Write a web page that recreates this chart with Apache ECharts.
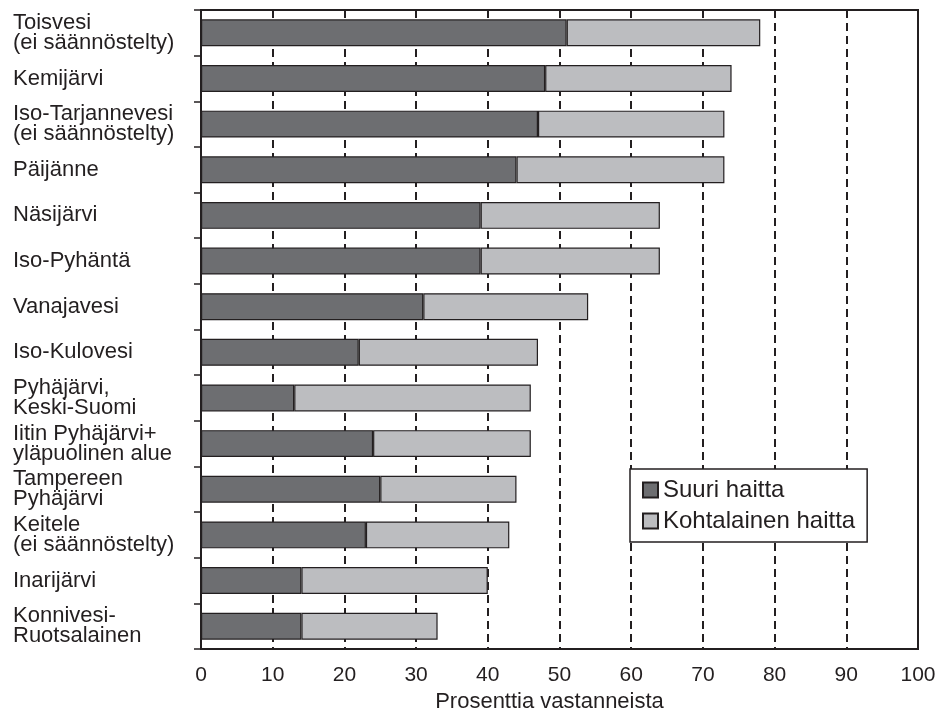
<!DOCTYPE html>
<html>
<head>
<meta charset="utf-8">
<script src="https://cdn.jsdelivr.net/npm/echarts@6/dist/echarts.min.js"></script>
<style>html,body{margin:0;padding:0;background:#fff}#c{width:946px;height:713px}</style>
</head>
<body>
<div id="c"></div>
<script>
var categories = [
  "Toisvesi\n(ei säännöstelty)",
  "Kemijärvi",
  "Iso-Tarjannevesi\n(ei säännöstelty)",
  "Päijänne",
  "Näsijärvi",
  "Iso-Pyhäntä",
  "Vanajavesi",
  "Iso-Kulovesi",
  "Pyhäjärvi,\nKeski-Suomi",
  "Iitin Pyhäjärvi+\nyläpuolinen alue",
  "Tampereen\nPyhäjärvi",
  "Keitele\n(ei säännöstelty)",
  "Inarijärvi",
  "Konnivesi-\nRuotsalainen"
];
var suuriHaitta = [51, 48, 47, 44, 39, 39, 31, 22, 13, 24, 25, 23, 14, 14];
var kohtalainenHaitta = [27, 26, 26, 29, 25, 25, 23, 25, 33, 22, 19, 20, 26, 19];
var seriesNames = ["Suuri haitta", "Kohtalainen haitta"];
var xAxisTitle = "Prosenttia vastanneista";

var FONT = "Liberation Sans, Arial, sans-serif";
var INK = "#231f20";
var chart = echarts.init(document.getElementById('c'), null, {renderer: 'canvas'});
chart.setOption({
  animation: false,
  backgroundColor: '#ffffff',
  textStyle: {fontFamily: FONT, color: INK},
  grid: {left: 201, right: 28, top: 10, bottom: 64, show: true, borderColor: INK, borderWidth: 2,
         backgroundColor: 'transparent', containLabel: false, outerBoundsMode: 'none'},
  legend: {
    orient: 'vertical',
    left: 630, top: 469,
    padding: [9, 12, 9, 12],
    backgroundColor: '#ffffff',
    borderColor: INK, borderWidth: 1.5,
    icon: 'rect',
    itemWidth: 15, itemHeight: 15, itemGap: 7,
    textStyle: {fontSize: 24, color: INK, fontFamily: FONT},
    data: seriesNames
  },
  xAxis: {
    type: 'value', min: 0, max: 100, interval: 10,
    axisLine: {show: true, lineStyle: {color: INK, width: 2}},
    axisTick: {show: false},
    axisLabel: {fontSize: 21, color: INK, margin: 16, fontFamily: FONT},
    splitLine: {show: true, lineStyle: {color: INK, width: 2, type: [8, 5]}},
    name: xAxisTitle, nameLocation: 'middle', nameGap: 42,
    nameTextStyle: {fontSize: 22, color: INK, fontFamily: FONT, padding: [0, 20, 0, 0]}
  },
  yAxis: {
    type: 'category', data: categories, inverse: true,
    axisLine: {show: true, lineStyle: {color: INK, width: 2}},
    axisTick: {show: true, length: 7, lineStyle: {color: INK, width: 1.5}},
    axisLabel: {align: 'left', margin: 188, fontSize: 22, lineHeight: 20, color: INK, fontFamily: FONT, padding: [0, 0, 4, 0]},
    splitLine: {show: false}
  },
  series: [
    {name: seriesNames[0], type: 'bar', stack: 'a', data: suuriHaitta, barCategoryGap: '41%',
     itemStyle: {color: '#6d6e71', borderColor: INK, borderWidth: 1.2}},
    {name: seriesNames[1], type: 'bar', stack: 'a', data: kohtalainenHaitta, barCategoryGap: '41%',
     itemStyle: {color: '#bcbdc0', borderColor: INK, borderWidth: 1.2}}
  ]
});
</script>
</body>
</html>
